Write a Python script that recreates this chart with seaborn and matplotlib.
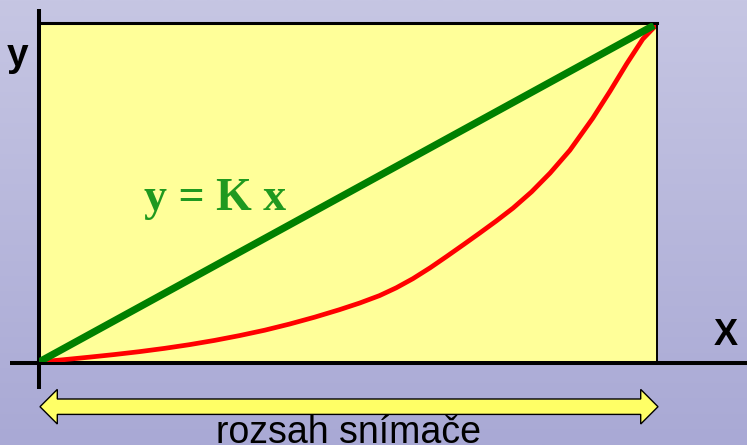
import numpy as np
import seaborn as sns
import matplotlib.pyplot as plt
from matplotlib.colors import LinearSegmentedColormap
from matplotlib.patches import Polygon

# -----------------------------
# Data (fractions of the sensor range)
# -----------------------------
linear_x = [0.0, 0.995]
linear_y = [0.0, 0.993]

real_x = [0.0, 0.040, 0.081, 0.122, 0.162, 0.203, 0.243, 0.284, 0.324, 0.365,
          0.405, 0.446, 0.486, 0.519, 0.551, 0.578, 0.605, 0.633, 0.660, 0.687,
          0.713, 0.740, 0.767, 0.797, 0.827, 0.859, 0.896, 0.924, 0.951, 0.977, 0.997]
real_y = [0.0, 0.0068, 0.0142, 0.0220, 0.0304, 0.0402, 0.0510, 0.0637, 0.0777, 0.0937,
          0.1117, 0.1322, 0.1542, 0.1740, 0.1958, 0.2188, 0.2458, 0.2780, 0.3118, 0.3464,
          0.3802, 0.4161, 0.4539, 0.5019, 0.5574, 0.6246, 0.7190, 0.7988, 0.8798, 0.9526, 0.9906]

eq_label = "y = K x"
range_label = "rozsah snímače"
y_label = "y"
x_label = "X"

# -----------------------------
# Figure / layout (pixel based)
# -----------------------------
W, H = 747, 445
sns.set_style("white")
plt.rcParams['font.family'] = ['Liberation Sans', 'DejaVu Sans']

fig = plt.figure(figsize=(W / 100, H / 100), dpi=100)

# background gradient
bg = fig.add_axes([0, 0, 1, 1], zorder=0)
bg_cmap = LinearSegmentedColormap.from_list('bg', ['#c6c6e3', '#a9a9d5'])
bg.imshow(np.linspace(0, 1, 256).reshape(-1, 1), aspect='auto', cmap=bg_cmap,
          extent=[0, 1, 0, 1], origin='upper')
bg.axis('off')

# plot area (yellow box)
left, right, top_px, bottom_px = 39, 657, 23, 362
ax = fig.add_axes([left / W, 1 - bottom_px / H, (right - left) / W, (bottom_px - top_px) / H], zorder=1)
ax.set_facecolor('#ffff99')
for side in ['left', 'bottom']:
    ax.spines[side].set_visible(False)
ax.spines['top'].set_linewidth(2.2)
ax.spines['right'].set_linewidth(1.4)
ax.spines['top'].set_color('black')
ax.spines['right'].set_color('black')

# coordinate axes extending past the box
sy = bottom_px - top_px
sx = right - left
ax.plot([0, 0], [(bottom_px - 389) / sy, (bottom_px - 9) / sy], transform=ax.transAxes,
        color='black', lw=2.9, clip_on=False, zorder=1.5, solid_capstyle='butt')
ax.plot([(10 - left) / sx, (W + 5 - left) / sx], [-0.002, -0.002], transform=ax.transAxes,
        color='black', lw=2.9, clip_on=False, zorder=1.5, solid_capstyle='butt')

sns.lineplot(x=real_x, y=real_y, ax=ax, color='#ff0000', lw=3.4, sort=False,
             estimator=None, zorder=2.5)
sns.lineplot(x=linear_x, y=linear_y, ax=ax, color='#008000', lw=5.2, sort=False,
             estimator=None, zorder=3, solid_capstyle='butt')

ax.set_xlim(0, 1)
ax.set_ylim(0, 1)
ax.set_xticks([])
ax.set_yticks([])
ax.set_xlabel('')
ax.set_ylabel('')

# overlay for labels and range arrow
ov = fig.add_axes([0, 0, 1, 1], zorder=2)
ov.set_xlim(0, W)
ov.set_ylim(H, 0)
ov.axis('off')
ov.patch.set_alpha(0)

x0, x1, yc, hl, hw, tw = 40, 658, 406.7, 17.3, 17.3, 7.7
arrow = Polygon([(x0, yc), (x0 + hl, yc - hw), (x0 + hl, yc - tw), (x1 - hl, yc - tw),
                 (x1 - hl, yc - hw), (x1, yc), (x1 - hl, yc + hw), (x1 - hl, yc + tw),
                 (x0 + hl, yc + tw), (x0 + hl, yc + hw)],
                closed=True, facecolor='#ffff66', edgecolor='black', lw=1.0)
ov.add_patch(arrow)

ov.text(348, 443, range_label, fontsize=27, ha='center', va='baseline', color='black')
ov.text(18, 66, y_label, fontsize=28, fontweight='bold', ha='center', va='baseline', color='black')
ov.text(726, 345, x_label, fontsize=26, fontweight='bold', ha='center', va='baseline', color='black')
ov.text(215, 210, eq_label, fontsize=33, fontweight='bold', ha='center', va='baseline',
        color='#1f991f', family=['Liberation Serif', 'DejaVu Serif'])

fig.savefig('out.png', dpi=100)
